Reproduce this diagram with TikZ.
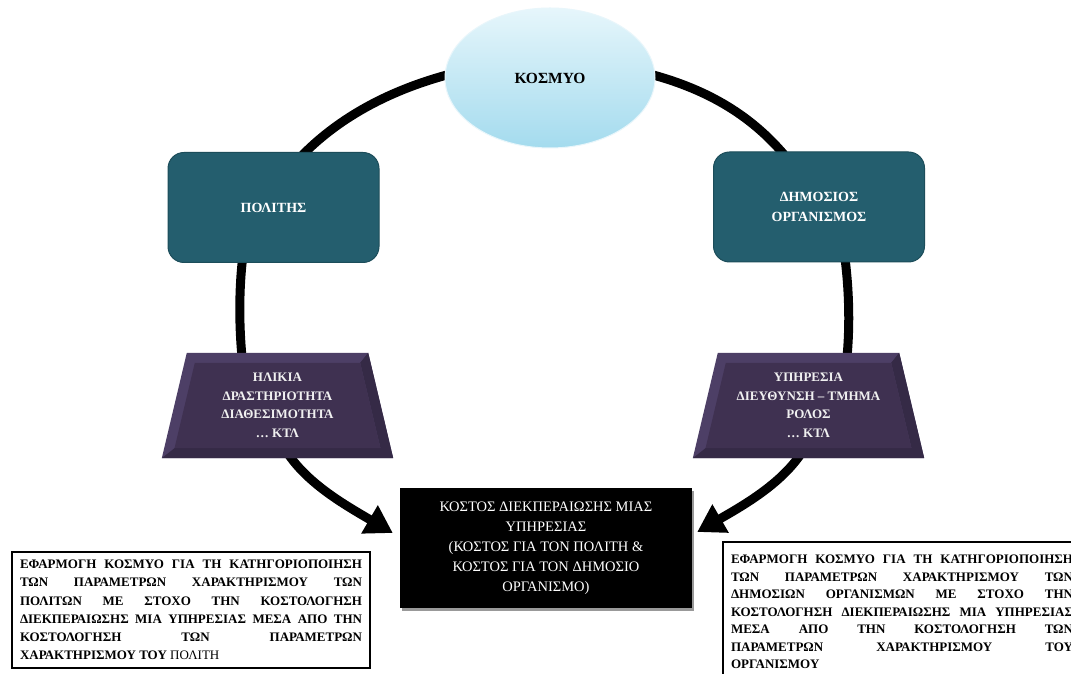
\documentclass[tikz,border=0pt]{standalone}
\usepackage{fontspec}
\setmainfont{Liberation Serif}
\usetikzlibrary{arrows.meta,calc,shapes.geometric}

\pgfdeclarelayer{paper}
\pgfdeclarelayer{ring}
\pgfdeclarelayer{plates}
\pgfsetlayers{paper,ring,plates,main}

\definecolor{tealfill}{HTML}{245E6E}
\definecolor{tealedge}{HTML}{1C4D5A}
\definecolor{plum}{HTML}{3F3151}
\definecolor{plumlight}{HTML}{4D3F66}
\definecolor{plumdark}{HTML}{352A46}
\definecolor{skytop}{HTML}{E6F6FB}
\definecolor{skybot}{HTML}{A4DBEE}

\tikzset{
  ring/.style={line width=9pt, black},
  flow/.style={line width=9pt, black, -{Triangle[length=27pt,width=31pt]}},
  tealbox/.style={rectangle, rounded corners=16pt, fill=tealfill, draw=tealedge,
    line width=1pt, minimum width=211pt, minimum height=110pt, text=white,
    font=\bfseries\fontsize{14}{20}\selectfont, align=center},
  plate/.style={rectangle, minimum width=231pt, minimum height=105pt,
    text=white!94!black, font=\bfseries\fontsize{13}{18.5}\selectfont, align=center},
  notebox/.style={rectangle, draw=black, line width=2pt, fill=white,
    minimum width=358pt, text width=342pt, inner xsep=8pt, align=justify,
    font=\bfseries\fontsize{13}{18.2}\selectfont,
    execute at begin node={\hyphenpenalty=10000\relax\tolerance=10000\relax}},
  costbox/.style={rectangle, fill=black, minimum width=292pt, minimum height=120pt,
    text=white, font=\fontsize{14.5}{20}\selectfont, align=center}
}

\begin{document}
\begin{tikzpicture}[x=1pt,y=1pt]
\useasboundingbox (0,0) rectangle (1071,674);
\clip (0,0) rectangle (1071,674);
\begin{pgfonlayer}{paper}
  \fill[white] (0,0) rectangle (1071,674);
\end{pgfonlayer}

% main nodes
\node[ellipse, minimum width=210pt, minimum height=140pt, top color=skytop,
      bottom color=skybot, draw=white!75!skybot, line width=1pt,
      font=\bfseries\fontsize{15.5}{18}\selectfont] (kosmos) at (550,596) {ΚΟΣΜΥΟ};

\node[tealbox] (politis) at (273.5,466.5) {ΠΟΛΙΤΗΣ};
\node[tealbox] (dimosios) at (819,467) {ΔΗΜΟΣΙΟΣ\\ΟΡΓΑΝΙΣΜΟΣ};

\node[plate] (ageplate) at (277.5,268.5) {ΗΛΙΚΙΑ\\ΔΡΑΣΤΗΡΙΟΤΗΤΑ\\ΔΙΑΘΕΣΙΜΟΤΗΤΑ\\… ΚΤΛ};
\node[plate] (unitplate) at (808.5,268.5) {ΥΠΗΡΕΣΙΑ\\ΔΙΕΥΘΥΝΣΗ – ΤΜΗΜΑ\\ΡΟΛΟΣ\\… ΚΤΛ};

\node[costbox] (cost) at (546,126)
  {ΚΟΣΤΟΣ ΔΙΕΚΠΕΡΑΙΩΣΗΣ ΜΙΑΣ\\ΥΠΗΡΕΣΙΑΣ\\(ΚΟΣΤΟΣ ΓΙΑ ΤΟΝ ΠΟΛΙΤΗ \&\\ΚΟΣΤΟΣ ΓΙΑ ΤΟΝ ΔΗΜΟΣΙΟ\\ΟΡΓΑΝΙΣΜΟ)};

\node[notebox, minimum height=116pt] (citizennote) at (191,64)
  {ΕΦΑΡΜΟΓΗ ΚΟΣΜΥΟ ΓΙΑ ΤΗ ΚΑΤΗΓΟΡΙΟΠΟΙΗΣΗ\linebreak
   ΤΩΝ ΠΑΡΑΜΕΤΡΩΝ ΧΑΡΑΚΤΗΡΙΣΜΟΥ ΤΩΝ\linebreak
   ΠΟΛΙΤΩΝ ΜΕ ΣΤΟΧΟ ΤΗΝ ΚΟΣΤΟΛΟΓΗΣΗ\linebreak
   ΔΙΕΚΠΕΡΑΙΩΣΗΣ ΜΙΑ ΥΠΗΡΕΣΙΑΣ ΜΕΣΑ ΑΠΟ ΤΗΝ\linebreak
   ΚΟΣΤΟΛΟΓΗΣΗ ΤΩΝ ΠΑΡΑΜΕΤΡΩΝ\linebreak
   ΧΑΡΑΚΤΗΡΙΣΜΟΥ ΤΟΥ {\mdseries ΠΟΛΙΤΗ}};

\node[notebox, minimum height=139pt, font=\bfseries\fontsize{13}{17.5}\selectfont]
  (agencynote) at (902,62)
  {ΕΦΑΡΜΟΓΗ ΚΟΣΜΥΟ ΓΙΑ ΤΗ ΚΑΤΗΓΟΡΙΟΠΟΙΗΣΗ\linebreak
   ΤΩΝ ΠΑΡΑΜΕΤΡΩΝ ΧΑΡΑΚΤΗΡΙΣΜΟΥ ΤΩΝ\linebreak
   ΔΗΜΟΣΙΩΝ ΟΡΓΑΝΙΣΜΩΝ ΜΕ ΣΤΟΧΟ ΤΗΝ\linebreak
   ΚΟΣΤΟΛΟΓΗΣΗ ΔΙΕΚΠΕΡΑΙΩΣΗΣ ΜΙΑ ΥΠΗΡΕΣΙΑΣ\linebreak
   ΜΕΣΑ ΑΠΟ ΤΗΝ ΚΟΣΤΟΛΟΓΗΣΗ ΤΩΝ\linebreak
   ΠΑΡΑΜΕΤΡΩΝ ΧΑΡΑΚΤΗΡΙΣΜΟΥ ΤΟΥ\linebreak
   ΟΡΓΑΝΙΣΜΟΥ};

% bevelled trapezoid plates and the shadow of the cost box
\begin{pgfonlayer}{plates}
  \foreach \p in {ageplate,unitplate}{
    \fill[plumlight] (\p.south west) -- (\p.south east)
      -- ($(\p.north east)+(-25,0)$) -- ($(\p.north west)+(25,0)$) -- cycle;
    \fill[plumdark] (\p.south west) -- (\p.south east)
      -- ($(\p.north east)+(-25,0)$) -- ($(\p.north east)+(-33,-10)$)
      -- ($(\p.south east)+(-12.7,10)$) -- ($(\p.south west)+(12.7,10)$) -- cycle;
    \fill[plum] ($(\p.south west)+(12.7,10)$) -- ($(\p.south east)+(-12.7,10)$)
      -- ($(\p.north east)+(-33,-10)$) -- ($(\p.north west)+(33,-10)$) -- cycle;
  }
  \fill[black!40] ($(cost.south west)+(2,-3)$) rectangle ($(cost.north east)+(2,-3)$);
\end{pgfonlayer}

% the ring of connectors and the two arrows into the cost box
\begin{pgfonlayer}{ring}
  \draw[ring] ($(kosmos.west)+(6,4)$) .. controls (390,584) and (340,557)
    .. ($(politis.north)+(29,-3)$);
  \draw[ring] ($(politis.south)+(-31,4)$) .. controls (239,384) and (239,349)
    .. ($(ageplate.north)+(-35.5,-4)$);
  \draw[ring] ($(kosmos.east)+(-6,4)$) .. controls (710,584) and (752,557)
    .. ($(dimosios.north)+(-35,-3)$);
  \draw[ring] ($(dimosios.south)+(26,4)$) .. controls (849,384) and (850,349)
    .. ($(unitplate.north)+(38.5,-4)$);
  \draw[flow] ($(ageplate.south)+(11.5,3)$) .. controls (310,189) and (345,169)
    .. ($(cost.west)+(-7,15)$);
  \draw[flow] ($(unitplate.south)+(-8.5,3)$) .. controls (779,189) and (744,169)
    .. ($(cost.east)+(5,16)$);
\end{pgfonlayer}
\end{tikzpicture}
\end{document}
